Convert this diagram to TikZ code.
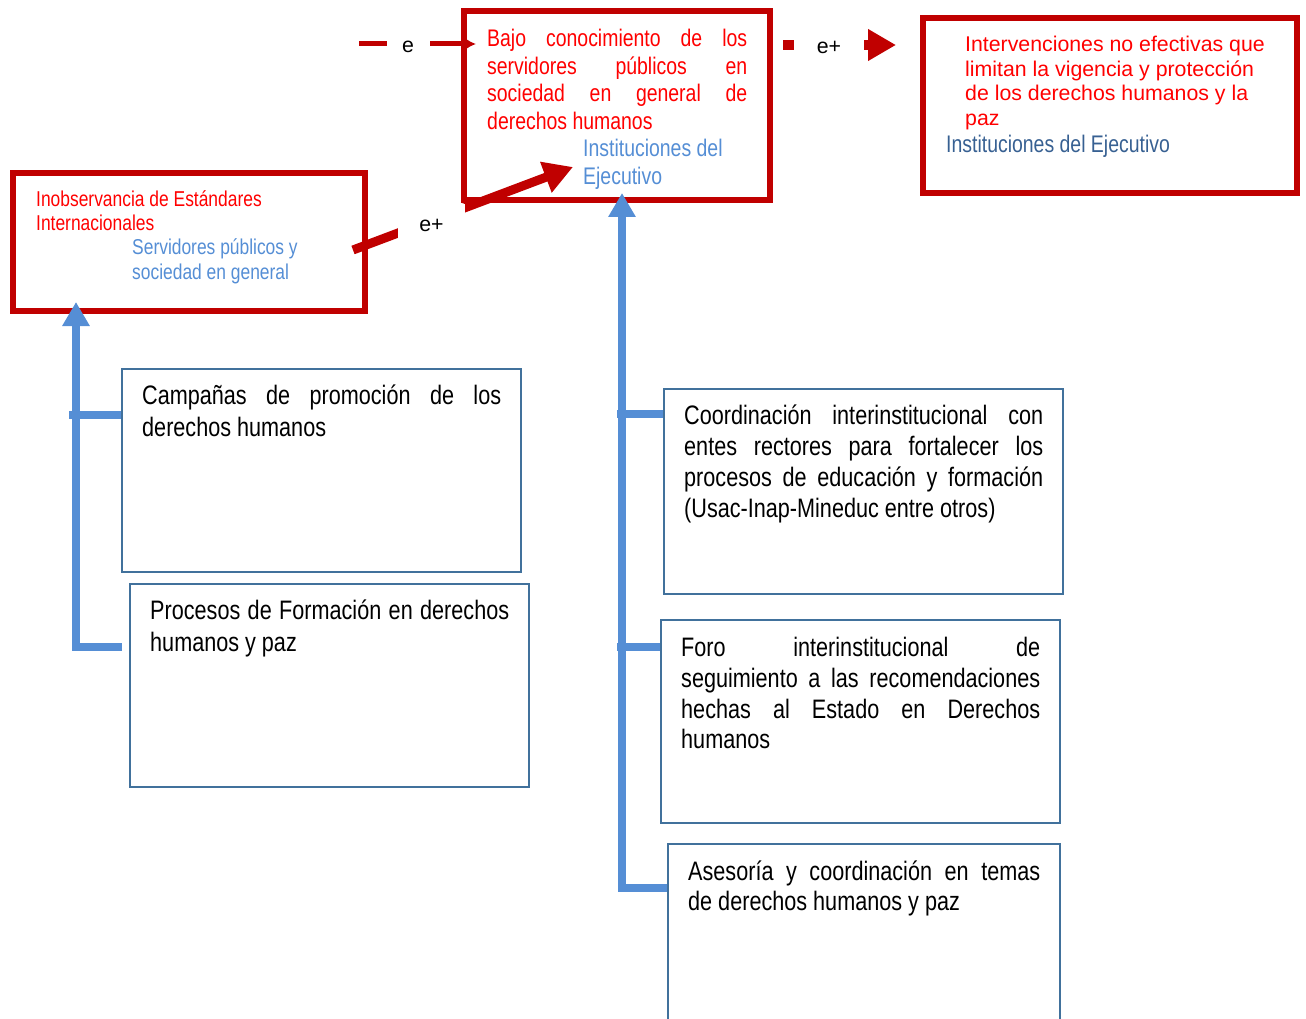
\documentclass[tikz,border=0pt]{standalone}
\usepackage{fontspec}
\setmainfont{Liberation Sans}
\newfontfamily\nar{Liberation Sans}[FakeStretch=0.81]
\usetikzlibrary{arrows.meta,calc}
\definecolor{boxred}{RGB}{192,0,0}
\definecolor{txtred}{RGB}{255,0,0}
\definecolor{lblue}{RGB}{85,142,213}
\definecolor{dblue}{RGB}{55,96,146}
\definecolor{bborder}{RGB}{65,113,156}
\definecolor{cblue}{RGB}{85,142,213}
\tikzset{
  redbox/.style={draw=boxred, line width=6pt, inner sep=0pt},
  bluebox/.style={draw=bborder, line width=2pt, inner sep=0pt},
  bodytext/.style={anchor=north west, inner sep=0pt, text width=359pt, align=justify,
    font={\nar\fontsize{26.7}{32}\selectfont\hyphenpenalty=10000}},
  smalltext/.style={anchor=north west, inner sep=0pt, align=left},
  conn/.style={draw=cblue, line width=8pt, line join=miter},
  bluetip/.style={-{Triangle[length=24pt,width=26pt]}},
  lab/.style={fill=white, inner sep=0pt, font=\fontsize{21.3}{24}\selectfont},
}
\begin{document}
\begin{tikzpicture}[x=1pt,y=-1pt]
\useasboundingbox (0,0) rectangle (1306,1019);

% ---- red boxes
\node[redbox, minimum width=306pt, minimum height=189pt] (top) at (617,105.5) {};
\node[redbox, minimum width=374pt, minimum height=175pt] (right) at (1110,105.5) {};
\node[redbox, minimum width=352pt, minimum height=138pt] (left) at (189,242) {};

% ---- blue boxes
\node[bluebox, minimum width=399pt, minimum height=203pt] (camp) at (321.5,470.5) {};
\node[bluebox, minimum width=399pt, minimum height=203pt] (proc) at (329.5,685.5) {};
\node[bluebox, minimum width=399pt, minimum height=205pt] (coord) at (863.5,491.5) {};
\node[bluebox, minimum width=399pt, minimum height=203pt] (foro) at (860.5,721.5) {};
\node[bluebox, minimum width=392pt, minimum height=203pt] (ases) at (864,945.5) {};

% ---- texts in red boxes
\node[anchor=north west, inner sep=0pt, text width=260pt, align=justify,
      font={\nar\fontsize{24}{27.5}\selectfont\hyphenpenalty=10000}, text=txtred] (toptxt) at (487,27.4)
  {\strut Bajo conocimiento de los\linebreak servidores públicos en\linebreak sociedad en general de\linebreak derechos humanos};
\node[smalltext, font={\nar\fontsize{24}{28}\selectfont}, text=lblue] (topsub) at (583,137)
  {\strut Instituciones del\\Ejecutivo};
\node[smalltext, font={\fontsize{21.3}{24.5}\selectfont}, text=txtred] (righttxt) at (965,34.5)
  {\strut Intervenciones no efectivas que\\limitan la vigencia y protección\\de los derechos humanos y la\\paz};
\node[smalltext, font={\nar\fontsize{24}{24}\selectfont}, text=dblue] (rightsub) at (946,134.8)
  {\strut Instituciones del Ejecutivo};
\node[smalltext, font={\nar\fontsize{21.5}{24}\selectfont}, text=txtred] (lefttxt) at (36,189)
  {\strut Inobservancia de Estándares\\Internacionales};
\node[smalltext, font={\nar\fontsize{21.5}{25}\selectfont}, text=lblue] (leftsub) at (132,237.2)
  {\strut Servidores públicos y\\sociedad en general};

% ---- texts in blue boxes
\node[bodytext] (camptxt) at (142,382.2)
  {\strut Campañas de promoción de los\linebreak derechos humanos};
\node[bodytext] (proctxt) at (150,597.2)
  {\strut Procesos de Formación en derechos\linebreak humanos y paz};
\node[bodytext, font={\nar\fontsize{26.7}{31}\selectfont\hyphenpenalty=10000}] (coordtxt) at (684,402.9)
  {\strut Coordinación interinstitucional con\linebreak entes rectores para fortalecer los\linebreak procesos de educación y formación\linebreak (Usac-Inap-Mineduc entre otros)};
\node[bodytext, font={\nar\fontsize{26.7}{30.7}\selectfont\hyphenpenalty=10000}] (forotxt) at (681,635.1)
  {\strut Foro interinstitucional de\linebreak seguimiento a las recomendaciones\linebreak hechas al Estado en Derechos\linebreak humanos};
\node[bodytext, text width=352pt, font={\nar\fontsize{26.7}{30}\selectfont\hyphenpenalty=10000}] (asestxt) at (688,859.6)
  {\strut Asesoría y coordinación en temas\linebreak de derechos humanos y paz};

% ---- blue connectors
\coordinate (lt) at (76,302);
\coordinate (ct) at (622,193);
\draw[conn,bluetip] ([xshift=-7pt,yshift=-64pt]proc.north west) -| (lt);
\draw[conn] ([yshift=-47pt]camp.north west) -- ++(-52,0);
\draw[conn,bluetip] ([yshift=-45pt]ases.north west) -| (ct);
\draw[conn] ([yshift=-26pt]coord.north west) -- ++(-46,0);
\draw[conn] ([yshift=-28pt]foro.north west) -- ++(-43,0);

% ---- red connectors
\coordinate (r1s) at (359,44);
\coordinate (r1e) at (476,44);
\coordinate (r2s) at (783,45);
\coordinate (r2e) at (896,45);
\coordinate (r3s) at (353,250);
\coordinate (r3e) at (573,167);
\draw[draw=boxred, line width=5pt, -{Latex[length=11pt,width=12pt]}] (r1s) -- (r1e);
\draw[draw=boxred, line width=10pt, -{Triangle[length=28pt,width=30pt]}] (r2s) -- (r2e);
\draw[draw=boxred, line width=9pt, -{Triangle[length=29pt,width=31pt]}] (r3s) -- (r3e);

% ---- labels on red connectors
\node[lab, minimum width=43pt, minimum height=24pt] (e1) at (408,47) {e};
\node[lab, minimum width=70pt, minimum height=28pt] (e2) at (829,47) {e+};
\node[lab, minimum width=67pt, minimum height=42pt] (e3) at (431.5,225) {e+};
\end{tikzpicture}
\end{document}
